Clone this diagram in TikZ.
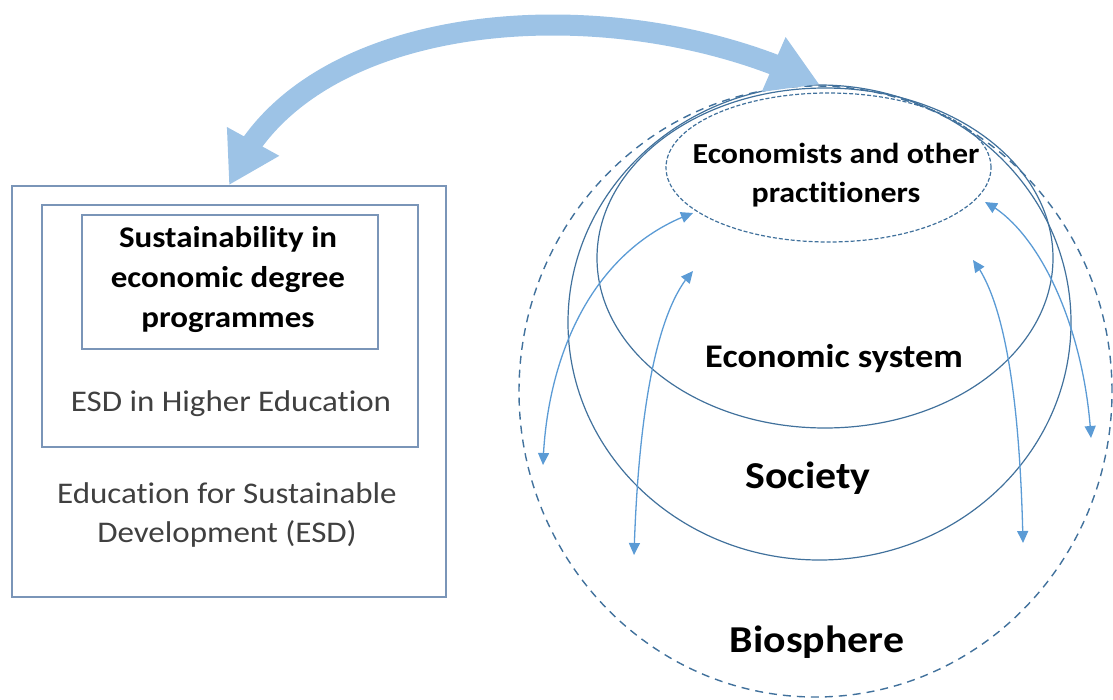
\documentclass[tikz,border=0pt]{standalone}
\usepackage{fontspec}
\setmainfont{Carlito}[FakeStretch=1.1,Ligatures=NoCommon]
\usepackage{tikz}
\usetikzlibrary {arrows.meta}
\usetikzlibrary {bending}
\usetikzlibrary {shapes.geometric}
\definecolor{boxline}{HTML}{7A95B8}
\definecolor{ringline}{HTML}{41719C}
\definecolor{linkblue}{HTML}{5B9BD5}
\definecolor{bigblue}{HTML}{9DC3E6}
\definecolor{softgray}{HTML}{404040}
\tikzset{
  frame/.style={rectangle,draw=boxline,line width=1.6pt,inner sep=0pt},
  ring/.style={ellipse,draw=ringline,line width=1.2pt,inner sep=0pt},
  lbl/.style={inner sep=0pt,anchor=base,align=center},
  link/.style={color=linkblue,line width=1.3pt,{Triangle[length=12pt,width=11pt]}-{Triangle[length=12pt,width=11pt]}},
  bigarrow/.style={color=bigblue,line width=21pt,{Triangle[length=50pt,width=56pt]}-{Triangle[length=50pt,width=56pt]}}
}

\begin{document}
\begin{tikzpicture}[x=1pt,y=-1pt]
       \useasboundingbox (0,0) rectangle (1113,699);
        % circles
        \node[ring,dashed,line width=1.4pt,dash pattern=on 8pt off 6pt,minimum width=593pt,minimum height=611pt] (bio) at (815.5,391.5) {};
        \node[ring,minimum width=503pt,minimum height=475pt] (soc) at (819.5,322.5) {};
        \node[ring,minimum width=456pt,minimum height=340pt] (ecs) at (825,258) {};
        \node[ring,dashed,dash pattern=on 4pt off 2pt,minimum width=325pt,minimum height=149pt] (eco) at (828.5,167.5) {};
        % boxes
        \node[frame,minimum width=434pt,minimum height=411pt] (esd) at (229,391.5) {};
        \node[frame,minimum width=376pt,minimum height=242pt] (hesd) at (230,326) {};
        \node[frame,minimum width=296pt,minimum height=134pt] (prog) at (230,282) {};

        % base = last line
        \node[lbl,font=\bfseries\fontsize{30}{40}\selectfont] (progtxt) at (228,327) {Sustainability in\\economic degree\\programmes};
        \node[lbl,text=softgray,font=\fontsize{30}{39}\selectfont] (hesdtxt) at (231,411) {ESD in Higher Education};
        \node[lbl,text=softgray,font=\fontsize{30}{39}\selectfont] (esdtxt) at (227,542) {Education for Sustainable\\Development (ESD)};

        \node[lbl,font=\bfseries\fontsize{29}{39}\selectfont] (ecotxt) at (836,202) {Economists and other\\practitioners};
        \node[lbl,font=\bfseries\fontsize{33}{38}\selectfont] (ecstxt) at (834,367) {Economic system};
        \node[lbl,font=\bfseries\fontsize{38}{44}\selectfont] (soctxt) at (808,488) {Society};
        \node[lbl,font=\bfseries\fontsize{38}{44}\selectfont] (biotxt) at (817,652) {Biosphere};

        % small arrows
        \coordinate (a1) at (543,465);
        \coordinate (b1) at (693,213);
        \coordinate (a2) at (634,555);
        \coordinate (b2) at (693,271);
        \coordinate (a3) at (1023,543);
        \coordinate (b3) at (973,260);
        \coordinate (a4) at (1091,438);
        \coordinate (b4) at (985,202);
        \draw[link] (a1) .. controls (546,360) and (590,250) .. (b1);
        \draw[link] (a2) .. controls (638,420) and (655,310) .. (b2);
        \draw[link] (a3) .. controls (1020,400) and (1005,300) .. (b3);
        \draw[link] (a4) .. controls (1085,330) and (1040,230) .. (b4);

        \draw[bigarrow] (esd.north) .. controls (300,5) and (620,-15) .. (soc.north);%big arrow
      \end{tikzpicture}
\end{document}
